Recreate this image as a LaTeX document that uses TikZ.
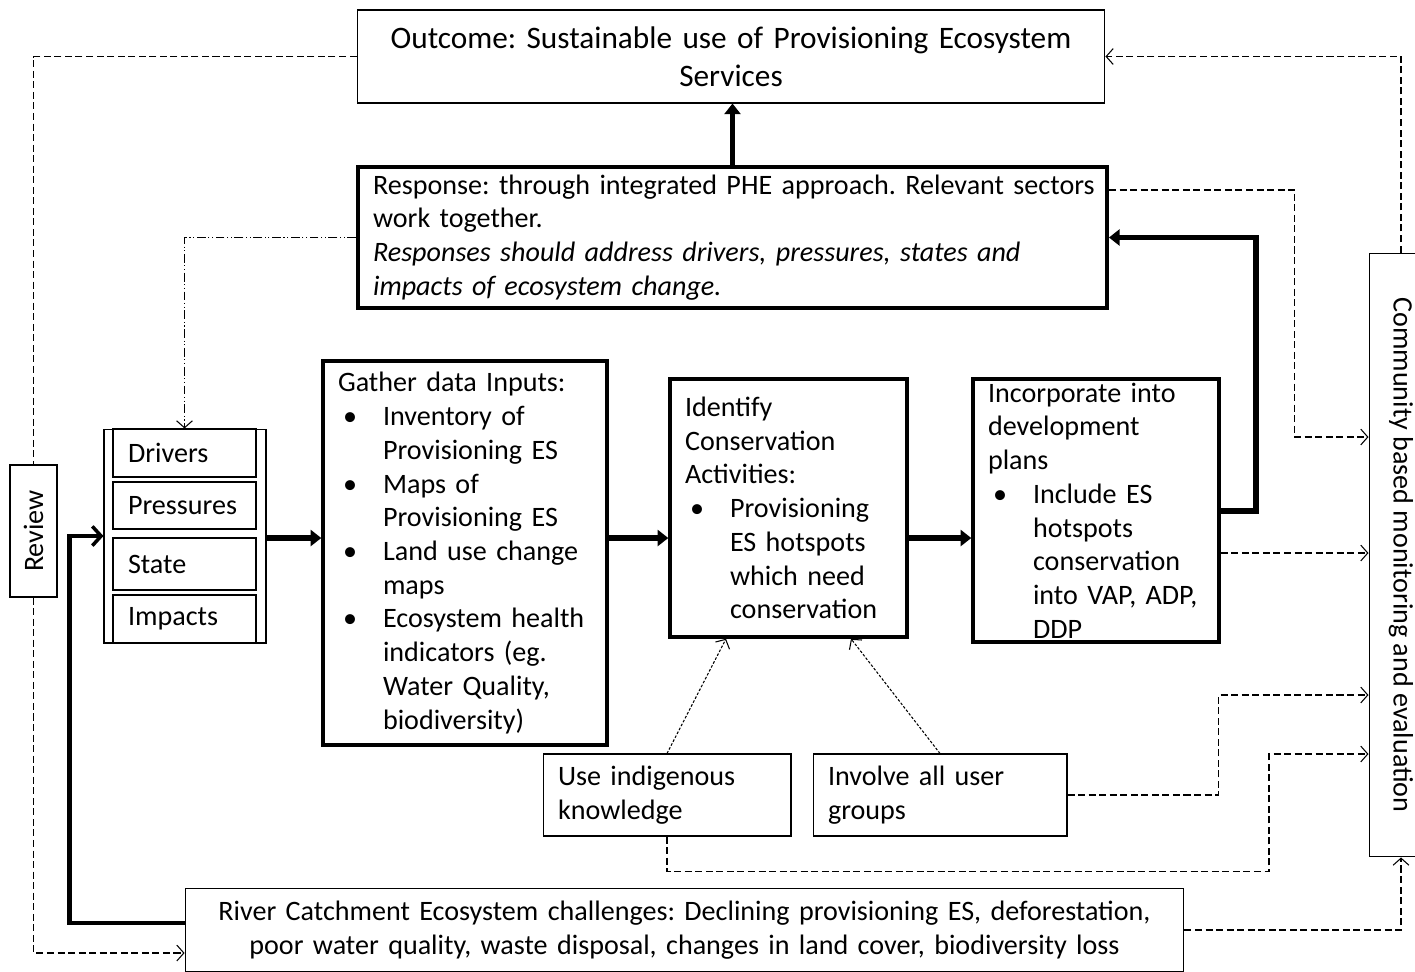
\documentclass[tikz,border=0pt]{standalone}
\usepackage{fontspec}
\setmainfont{Carlito}
\usepackage{graphicx}
\usepackage{tikz}
\usetikzlibrary{arrows.meta}

\newlength{\bulind}
\setlength{\bulind}{0.9cm}
\newcommand{\bitem}[1]{\par\hangindent=\bulind\hangafter=1\noindent\makebox[\bulind][l]{\hspace{0.1cm}\textbullet}#1\par}
\frenchspacing

\begin{document}
\begin{tikzpicture}[
                    x=0.02cm, y=-0.02cm,
                    every node/.style={font=\fontsize{16}{19.2}\selectfont\frenchspacing},
                    box style/.style={
                        draw,
                        line width=0.6pt,
                        inner xsep=0.3cm,
                        inner ysep=0pt,
                        align=left
                    },
                    thick box/.style={box style, line width=2pt},
                    main arrow/.style={line width=3.4pt, -{Triangle[length=6pt,width=9pt]}},
                    back arrow/.style={line width=2.8pt, -{Straight Barb[length=5pt,width=11pt,line width=2pt]}},
                    dash line/.style={line width=0.6pt, dash pattern=on 4pt off 2pt},
                    dash dot line/.style={line width=0.6pt, dash pattern=on 5pt off 1.5pt on 0.6pt off 1.5pt on 0.6pt off 1.5pt},
                    dot line/.style={line width=0.6pt, dash pattern=on 1.5pt off 1pt},
                    open tip/.style={-{Straight Barb[length=4pt,width=9pt]}}
                ]
    \useasboundingbox (0,0) rectangle (1415,971);

    \node[box style, align=center, text width=14.36cm, minimum height=1.86cm,
          font=\fontsize{17.8}{21.5}\selectfont\frenchspacing] (out) at (731,56.5)
        {Outcome: Sustainable use of Provisioning Ecosystem\\Services};
    \node[thick box, line width=2.3pt, text width=14.38cm, minimum height=2.82cm] (resp) at (732.5,237.5)
        {\mbox{Response: through integrated PHE approach. Relevant sectors}\newline work together.\newline
         {\itshape Responses should address drivers, pressures, states and\newline impacts of ecosystem change.}};

    \node[box style, minimum width=3.24cm, minimum height=4.28cm] (dpsi) at (185,536) {};
    \node[box style, text width=2.26cm, minimum height=0.96cm] (drv) at (184.5,453) {Drivers};
    \node[box style, text width=2.26cm, minimum height=0.94cm] (pre) at (184.5,505.5) {Pressures};
    \node[box style, text width=2.26cm, minimum height=1.04cm] (sta) at (184.5,564) {State};
    \node[box style, text width=2.26cm, minimum height=0.96cm] (imp) at (184.5,619) {Impacts};

    \node[thick box, text width=5.08cm, minimum height=7.68cm] (gath) at (465,553)
        {Gather data Inputs:
         \bitem{Inventory of\newline Provisioning ES}
         \bitem{Maps of\newline Provisioning ES}
         \bitem{Land use change\newline maps}
         \bitem{Ecosystem health\newline indicators (eg.\newline Water Quality,\newline biodiversity)}};
    \node[thick box, text width=4.14cm, minimum height=5.16cm] (iden) at (788.5,508)
        {Identify\newline Conservation\newline Activities:
         \bitem{Provisioning\newline ES hotspots\newline which need\newline conservation}};
    \node[thick box, text width=4.32cm, minimum height=5.26cm] (inco) at (1096,510.5)
        {Incorporate into\newline development\newline plans
         \bitem{Include ES\newline hotspots\newline conservation\newline into VAP, ADP,\newline DDP}};

    \node[box style, text width=4.36cm, minimum height=1.64cm] (use) at (667,795)
        {Use indigenous\newline knowledge};
    \node[box style, text width=4.48cm, minimum height=1.64cm] (invo) at (940,795)
        {Involve all user\newline groups};

    \node[box style, align=center, text width=19.38cm, minimum height=1.68cm] (river) at (684.5,930)
        {River Catchment Ecosystem challenges: Declining provisioning ES, deforestation,\\
         poor water quality, waste disposal, changes in land cover, biodiversity loss};

    \node[box style, inner xsep=0pt, minimum width=0.94cm, minimum height=2.64cm] (rev) at (33.5,531)
        {\rotatebox{90}{Review}};
    \node[box style, inner xsep=0pt, minimum width=1.28cm, minimum height=12.08cm] (comm) at (1401,555)
        {\rotatebox{-90}{Community based monitoring and evaluation}};

    \coordinate (flow) at (0,538);
    \coordinate (m1) at (0,437);
    \coordinate (m2) at (0,553);
    \coordinate (m3) at (0,695);
    \coordinate (m4) at (0,754);

    \draw[main arrow] (resp.north) -- (resp.north |- out.south);
    \draw[main arrow] (dpsi.east |- flow) -- (gath.west |- flow);
    \draw[main arrow] (gath.east |- flow) -- (iden.west |- flow);
    \draw[main arrow] (iden.east |- flow) -- (inco.west |- flow);
    \draw[main arrow] (inco.east) -- ++(35,0) |- (resp.east);
    \draw[back arrow] ([yshift=0.14cm]river.west) -- ++(-115,0) |- (dpsi.west);

    \draw[dash dot line, open tip] (resp.west) -| (drv.north);
    \draw[dash line] (out.west) -| (rev.north);
    \draw[dash line, open tip] (rev.south) |- ([yshift=-0.46cm]river.west);
    \draw[dash line, open tip] (comm.north) |- (out.east);
    \draw[dash line, open tip] ([yshift=0.95cm]resp.east) -- ++(186,0) |- (comm.west |- m1);
    \draw[dash line, open tip] (inco.east |- m2) -- (comm.west |- m2);
    \draw[dash line, open tip] (invo.east) -- ++(151,0) |- (comm.west |- m3);
    \draw[dash line, open tip] (use.south) -- ++(0,35) -- ++(602,0) |- (comm.west |- m4);
    \draw[dash line, open tip] (river.east) -| (comm.south);
    \draw[dot line, open tip] (use.north) -- ([xshift=-1.25cm]iden.south);
    \draw[dot line, open tip] (invo.north) -- ([xshift=1.25cm]iden.south);
\end{tikzpicture}
\end{document}
